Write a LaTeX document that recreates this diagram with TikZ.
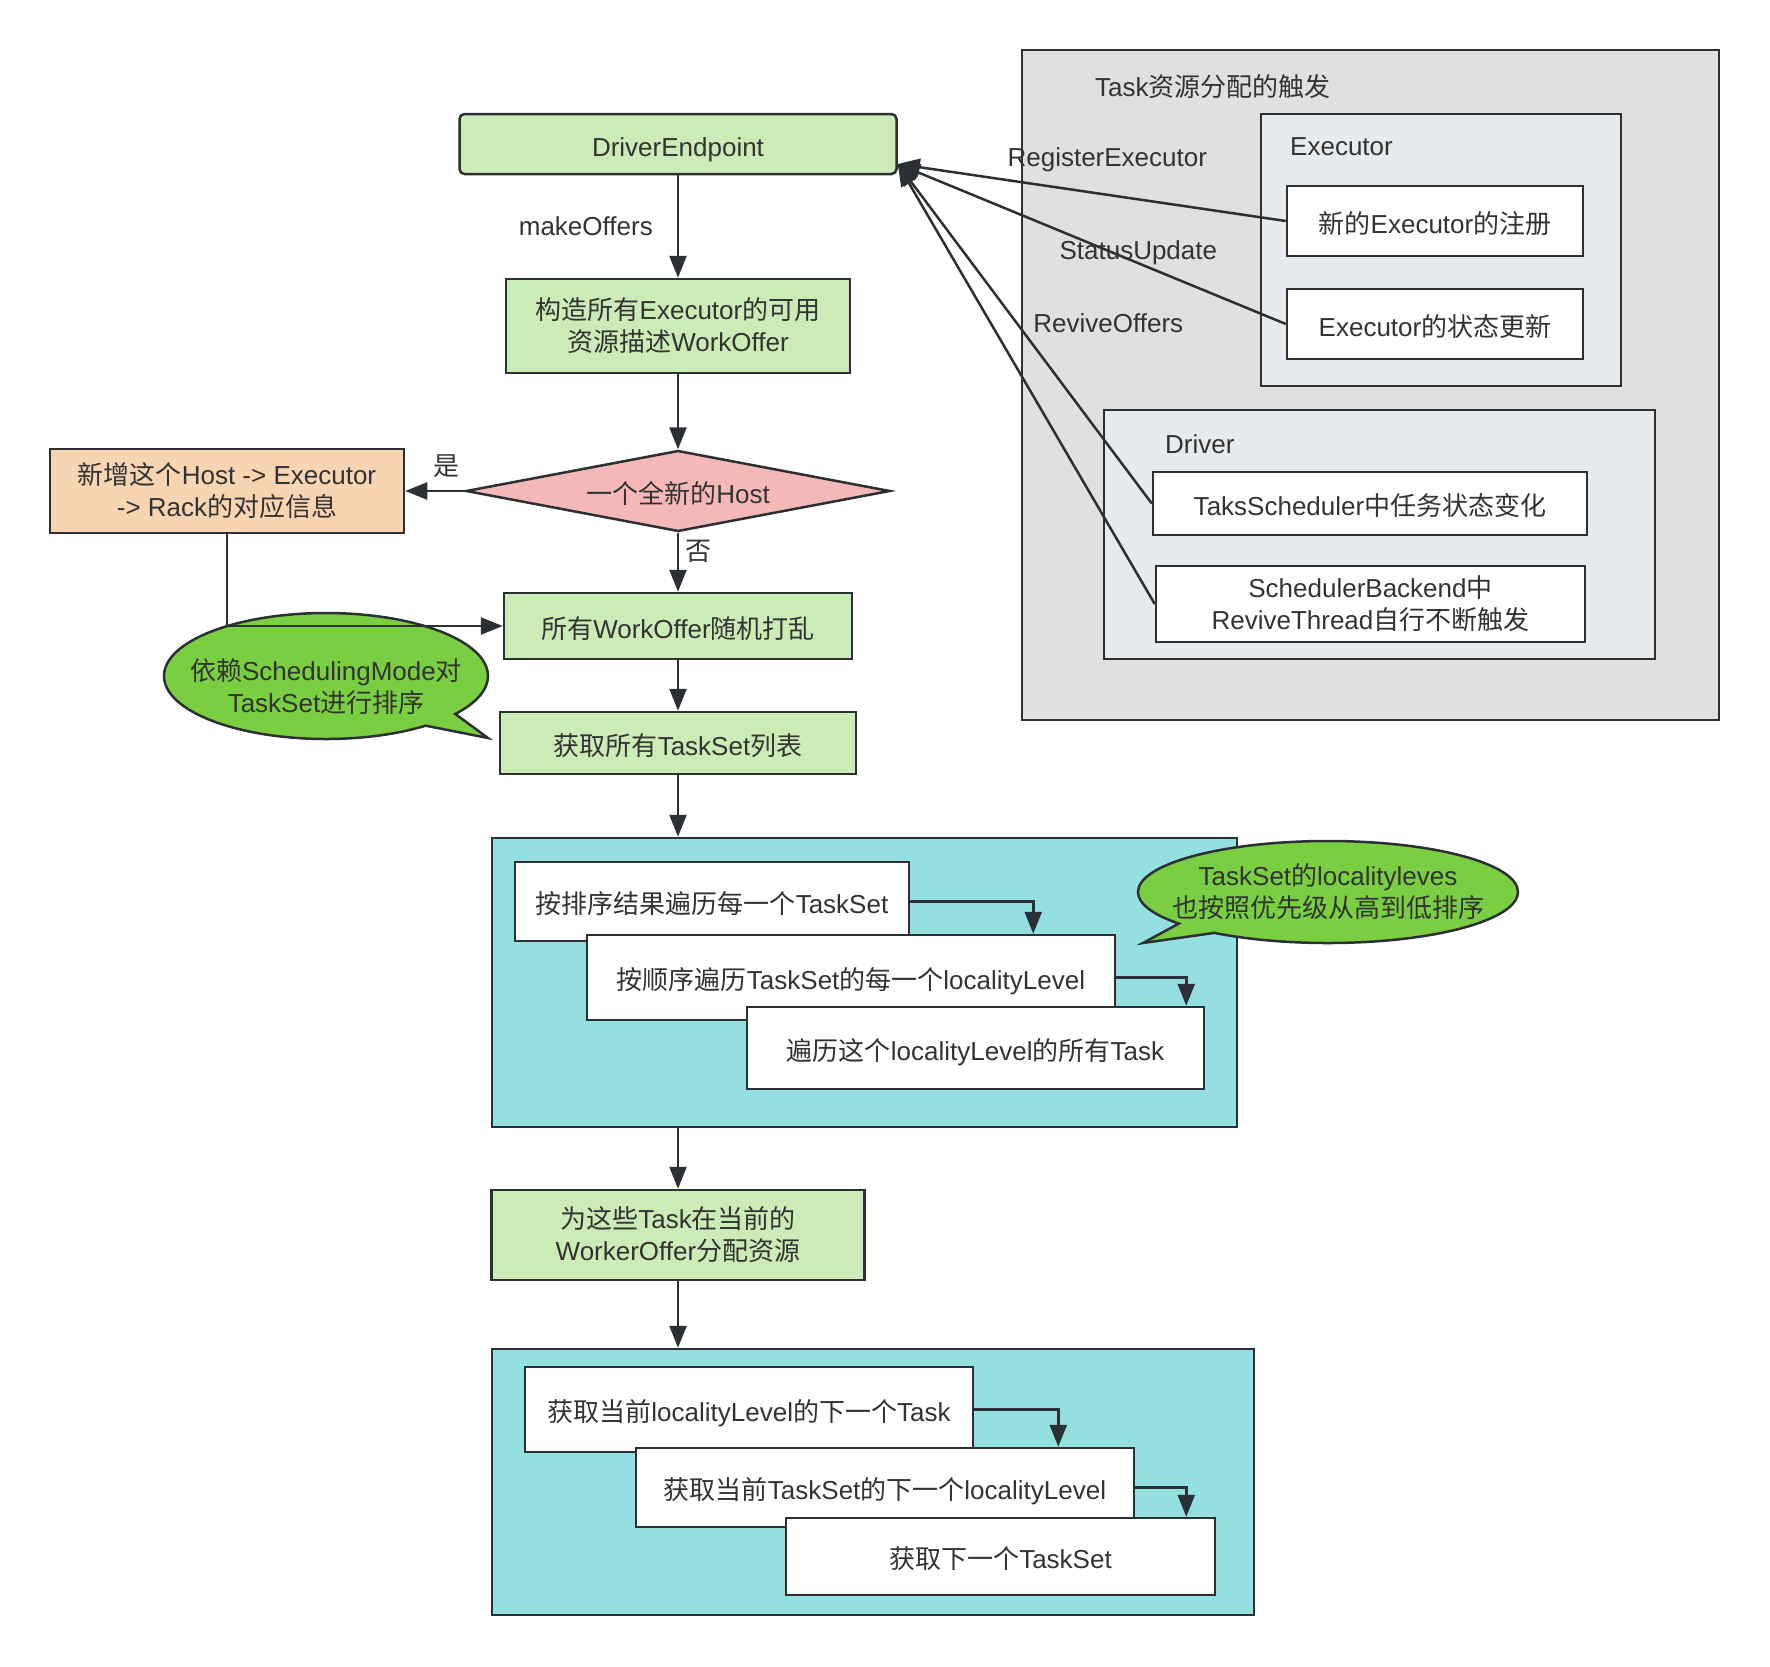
\documentclass[tikz,border=0pt]{standalone}
\usepackage{fontspec}
\setmainfont{Liberation Sans}
\newfontfamily\cjk{Noto Sans CJK SC}
\newcommand{\zh}[1]{{\cjk #1}}
\usetikzlibrary{arrows.meta,shapes.geometric,shapes.callouts}

\definecolor{txt}{RGB}{51,51,51}
\definecolor{edge}{RGB}{44,48,52}
\definecolor{stepgreen}{RGB}{203,236,182}
\definecolor{hostpink}{RGB}{244,184,182}
\definecolor{hostorange}{RGB}{248,213,178}
\definecolor{notegreen}{RGB}{122,206,66}
\definecolor{loopcyan}{RGB}{148,224,224}
\definecolor{trigray}{RGB}{224,224,224}
\definecolor{subgray}{RGB}{232,235,238}

\tikzset{
  base/.style={font=\fontsize{26}{32}\selectfont, text=txt, align=center, inner sep=0pt},
  oneline/.style={text height=26pt, text depth=2pt},
  stepbox/.style={base, draw=edge, line width=2.5pt, fill=stepgreen},
  whitebox/.style={base, draw=edge, line width=2.5pt, fill=white},
  frame/.style={draw=edge, line width=2.5pt, inner sep=0pt},
  note/.style={base, ellipse callout, draw=edge, line width=2.5pt, fill=notegreen, inner xsep=-22pt},
  lbl/.style={base},
  flow/.style={draw=edge, line width=2.5pt, -{Triangle[length=22pt,width=17pt]}}
}

\begin{document}
\begin{tikzpicture}[x=1pt,y=-1pt]
\useasboundingbox (0,0) rectangle (1770,1666);

% trigger side
\node[frame, fill=trigray, minimum width=697, minimum height=670] (trig) at (1370.5,385) {};
\node[lbl, anchor=west] (ttrig) at (1095,87) {Task\zh{资源分配的触发}};
\node[frame, fill=subgray, minimum width=360, minimum height=272] (exec) at (1441,250) {};
\node[lbl, anchor=west] (texec) at (1290,147) {Executor};
\node[whitebox, oneline, minimum width=296, minimum height=70] (reg) at (1435,221) {\zh{新的}Executor\zh{的注册}};
\node[whitebox, oneline, minimum width=296, minimum height=70] (status) at (1435,324) {Executor\zh{的状态更新}};
\node[frame, fill=subgray, minimum width=551, minimum height=249] (drv) at (1379.5,534.5) {};
\node[lbl, anchor=west] (tdrv) at (1165,444) {Driver};
\node[whitebox, oneline, minimum width=434, minimum height=63] (taks) at (1370,503.5) {TaksScheduler\zh{中任务状态变化}};
\node[whitebox, minimum width=429, minimum height=76] (revive) at (1370.5,604) {SchedulerBackend\zh{中}\\ReviveThread\zh{自行不断触发}};

% main flow
\node[stepbox, oneline, rounded corners=5pt, minimum width=437, minimum height=60] (endpoint) at (678,144) {DriverEndpoint};
\node[stepbox, minimum width=344, minimum height=94] (offers) at (678,326) {\zh{构造所有}Executor\zh{的可用}\\\zh{资源描述}WorkOffer};
\node[base, oneline, diamond, aspect=5.2, draw=edge, line width=2.5pt, fill=hostpink, minimum width=424, minimum height=81] (newhost) at (678,491) {\zh{一个全新的}Host};
\node[base, draw=edge, line width=2.5pt, fill=hostorange, minimum width=354, minimum height=84] (addhost) at (227,491) {\zh{新增这个}Host -> Executor\\-> Rack\zh{的对应信息}};
\node[stepbox, oneline, minimum width=348, minimum height=66] (shuffle) at (678,626) {\zh{所有}WorkOffer\zh{随机打乱}};
\node[note, text height=75pt, text depth=3pt, minimum width=324, minimum height=126, callout absolute pointer={(488,738)}] (sortnote) at (326,676) {\zh{依赖}SchedulingMode\zh{对}\\TaskSet\zh{进行排序}};
\node[stepbox, oneline, minimum width=356, minimum height=62] (getsets) at (678,743) {\zh{获取所有}TaskSet\zh{列表}};

\node[frame, fill=loopcyan, minimum width=745, minimum height=289] (loop1) at (864.5,982.5) {};
\node[whitebox, oneline, minimum width=394, minimum height=79] (b1) at (712,901.5) {\zh{按排序结果遍历每一个}TaskSet};
\node[whitebox, oneline, minimum width=528, minimum height=85] (b2) at (851,977.5) {\zh{按顺序遍历}TaskSet\zh{的每一个}localityLevel};
\node[whitebox, oneline, minimum width=457, minimum height=82] (b3) at (975.5,1048) {\zh{遍历这个}localityLevel\zh{的所有}Task};
\node[note, minimum width=380, minimum height=102, callout absolute pointer={(1143,943)}] (levelnote) at (1328,892) {TaskSet\zh{的}localityleves\\\zh{也按照优先级从高到低排序}};

\node[stepbox, minimum width=373, minimum height=90] (assign) at (678,1235) {\zh{为这些}Task\zh{在当前的}\\WorkerOffer\zh{分配资源}};

\node[frame, fill=loopcyan, minimum width=762, minimum height=266] (loop2) at (873,1482) {};
\node[whitebox, oneline, minimum width=448, minimum height=85] (c1) at (749,1409.5) {\zh{获取当前}localityLevel\zh{的下一个}Task};
\node[whitebox, oneline, minimum width=498, minimum height=79] (c2) at (885,1487.5) {\zh{获取当前}TaskSet\zh{的下一个}localityLevel};
\node[whitebox, oneline, minimum width=429, minimum height=77] (c3) at (1000.5,1556.5) {\zh{获取下一个}TaskSet};

% connectors
\draw[flow] (endpoint) -- node[lbl, left=24pt]{makeOffers} (offers);
\draw[flow] (offers) -- (newhost);
\draw[flow] (newhost) -- node[lbl, pos=0.3, above=12pt]{\zh{是}} (addhost);
\draw[flow] (newhost) -- node[lbl, pos=0.32, right=6pt]{\zh{否}} (shuffle);
\draw[flow] (addhost) |- (shuffle);
\draw[flow] (shuffle) -- (getsets);
\draw[flow] (getsets) -- (getsets |- loop1.north);
\draw[flow] (assign |- loop1.south) -- (assign);
\draw[flow] (assign) -- (assign |- loop2.north);
\foreach \a/\b/\d in {b1/b2/83, b2/b3/19, c1/c2/77, c2/c3/30}
  \draw[flow] (\a) -| ([xshift=-\d pt]\b.north east);

\coordinate (dep) at ([yshift=-20pt]endpoint.east);
\draw[flow] (reg.west) -- node[lbl, pos=0.46, above=22pt]{RegisterExecutor} (dep);
\draw[flow] (status.west) -- node[lbl, pos=0.38, yshift=10pt]{StatusUpdate} (dep);
\draw[flow] (taks.west) -- node[lbl, pos=0.53, right=15pt]{ReviveOffers} (dep);
\draw[flow] (revive.west) -- (dep);
\end{tikzpicture}
\end{document}
